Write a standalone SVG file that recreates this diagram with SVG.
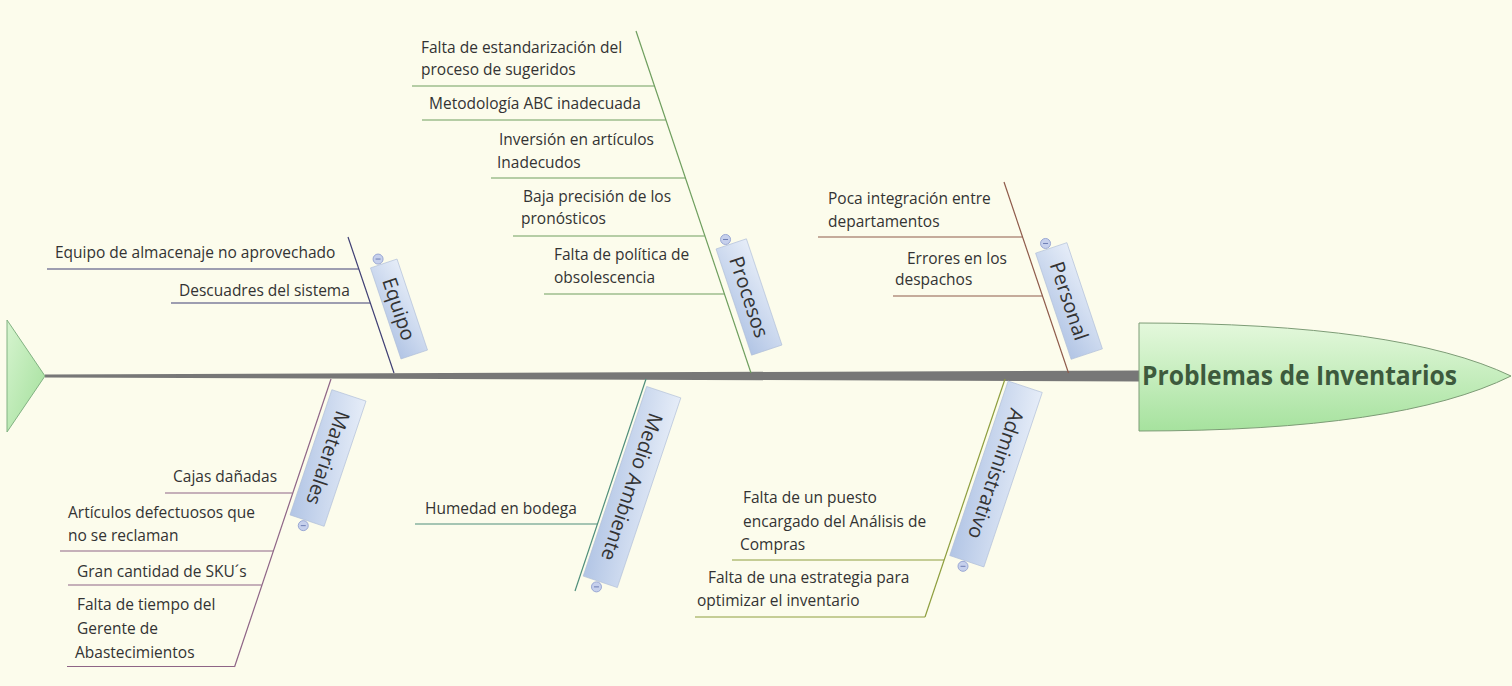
<svg xmlns="http://www.w3.org/2000/svg" width="1512" height="686" viewBox="0 0 1512 686">
  <defs>
    <linearGradient id="gHead" x1="0" y1="0" x2="0" y2="1">
      <stop offset="0" stop-color="#e4f8dc"/>
      <stop offset="1" stop-color="#a6e29e"/>
    </linearGradient>
    <linearGradient id="gTail" x1="0" y1="0" x2="1" y2="1">
      <stop offset="0" stop-color="#d6f4cf"/>
      <stop offset="1" stop-color="#a2df9a"/>
    </linearGradient>
    <linearGradient id="gLabel" x1="0" y1="0" x2="1" y2="1">
      <stop offset="0" stop-color="#e6edf8"/>
      <stop offset="1" stop-color="#b2c5e5"/>
    </linearGradient>
    <g id="minus">
      <circle r="5" fill="#c6d0ec" stroke="#9aa8d4" stroke-width="1"/>
      <line x1="-2.5" y1="0" x2="2.5" y2="0" stroke="#6e7eb4" stroke-width="1"/>
    </g>
  </defs>
  <style>
    .t{font-family:"Open Sans","Liberation Sans",sans-serif;font-size:15.5px;fill:#333}
    .lbl{font-family:"Open Sans","Liberation Sans",sans-serif;font-size:20px;fill:#333;text-anchor:middle}
    .box{fill:url(#gLabel);stroke:#aebdd8;stroke-width:0.6}
    .ln{fill:none;stroke-width:1.2}
    .eq{stroke:#3f3f74}
    .pr{stroke:#6e9e5e}
    .pe{stroke:#8e5a4a}
    .ma{stroke:#8e6486}
    .me{stroke:#4e8e7a}
    .ad{stroke:#8e9e3e}
  </style>

  <!-- background -->
  <rect width="1512" height="686" fill="#fcfcec"/>

  <!-- spine and category branches -->
  <g id="connectors">
    <polygon points="45,374.5 45,377.5 1140,381.5 1140,370.5" fill="#777"/>
    <line class="ln eq" x1="348" y1="237" x2="394" y2="373"/>
    <line class="ln pr" x1="636" y1="31" x2="751" y2="373"/>
    <line class="ln pe" x1="1004" y1="182" x2="1068.5" y2="373"/>
    <line class="ln ma" x1="331" y1="379" x2="234.5" y2="667"/>
    <line class="ln me" x1="646" y1="379" x2="575" y2="591"/>
    <line class="ln ad" x1="1005" y1="379" x2="925" y2="617"/>
  </g>

  <!-- tail -->
  <g id="tail">
    <polygon points="7,320 45,376 7,432" fill="url(#gTail)" stroke="#82b282" stroke-width="1"/>
  </g>

  <!-- head -->
  <g id="head">
    <path d="M1139,323 Q1400,323 1511,376 Q1400,431 1139,431 Z" fill="url(#gHead)" stroke="#7d9c76" stroke-width="1"/>
    <text x="1142" y="385" font-family="'Open Sans','Liberation Sans',sans-serif" font-size="26" font-weight="bold" fill="#3d5a3d" textLength="315" lengthAdjust="spacingAndGlyphs">Problemas de Inventarios</text>
  </g>

  <!-- category labels -->
  <g id="cat-equipo" transform="translate(399,309) rotate(71.5)">
    <rect class="box" x="-48" y="-14" width="96" height="28"/>
    <text class="lbl" x="0" y="7">Equipo</text>
    <use href="#minus" transform="translate(-54,4) rotate(-71.5)"/>
  </g>
  <g id="cat-procesos" transform="translate(749,297) rotate(71.5)">
    <rect class="box" x="-56" y="-16" width="112" height="32"/>
    <text class="lbl" x="0" y="7">Procesos</text>
    <use href="#minus" transform="translate(-62,4) rotate(-71.5)"/>
  </g>
  <g id="cat-personal" transform="translate(1069,301) rotate(71.5)">
    <rect class="box" x="-56" y="-16.5" width="112" height="33"/>
    <text class="lbl" x="0" y="7">Personal</text>
    <use href="#minus" transform="translate(-62,4) rotate(-71.5)"/>
  </g>
  <g id="cat-materiales" transform="translate(328,458) rotate(108.5)">
    <rect class="box" x="-66" y="-18" width="132" height="36"/>
    <text class="lbl" x="0" y="7">Materiales</text>
    <use href="#minus" transform="translate(72,2) rotate(-108.5)"/>
  </g>
  <g id="cat-medio" transform="translate(632,487) rotate(108.5)">
    <rect class="box" x="-100" y="-18" width="200" height="36"/>
    <text class="lbl" x="0" y="7">Medio Ambiente</text>
    <use href="#minus" transform="translate(106,2) rotate(-108.5)"/>
  </g>
  <g id="cat-administrativo" transform="translate(996,474) rotate(108.5)">
    <rect class="box" x="-92" y="-18" width="184" height="36"/>
    <text class="lbl" x="0" y="7">Administrativo</text>
    <use href="#minus" transform="translate(98,2) rotate(-108.5)"/>
  </g>

  <!-- Equipo causes -->
  <g id="eq-1">
    <text class="t" x="55" y="258">Equipo de almacenaje no aprovechado</text>
    <line class="ln eq" x1="47" y1="269" x2="358.7" y2="269"/>
  </g>
  <g id="eq-2">
    <text class="t" x="179" y="296">Descuadres del sistema</text>
    <line class="ln eq" x1="171" y1="303" x2="370.1" y2="303"/>
  </g>

  <!-- Procesos causes -->
  <g id="pr-1">
    <text class="t"><tspan x="421" y="53">Falta de estandarización del</tspan><tspan x="421" y="75">proceso de sugeridos</tspan></text>
    <line class="ln pr" x1="412" y1="86" x2="654.4" y2="86"/>
  </g>
  <g id="pr-2">
    <text class="t" x="429" y="109">Metodología ABC inadecuada</text>
    <line class="ln pr" x1="422" y1="120" x2="665.8" y2="120"/>
  </g>
  <g id="pr-3">
    <text class="t"><tspan x="499" y="145">Inversión en artículos</tspan><tspan x="497" y="168">Inadecudos</tspan></text>
    <line class="ln pr" x1="491" y1="178" x2="685.2" y2="178"/>
  </g>
  <g id="pr-4">
    <text class="t"><tspan x="523" y="202">Baja precisión de los</tspan><tspan x="521" y="224">pronósticos</tspan></text>
    <line class="ln pr" x1="513" y1="236" x2="704.7" y2="236"/>
  </g>
  <g id="pr-5">
    <text class="t"><tspan x="554" y="260">Falta de política de</tspan><tspan x="554" y="283">obsolescencia</tspan></text>
    <line class="ln pr" x1="544" y1="294" x2="724.1" y2="294"/>
  </g>

  <!-- Personal causes -->
  <g id="pe-1">
    <text class="t"><tspan x="828" y="204">Poca integración entre</tspan><tspan x="828" y="227">departamentos</tspan></text>
    <line class="ln pe" x1="818" y1="237" x2="1022.4" y2="237"/>
  </g>
  <g id="pe-2">
    <text class="t"><tspan x="907" y="264">Errores en los</tspan><tspan x="895" y="285">despachos</tspan></text>
    <line class="ln pe" x1="893" y1="296" x2="1042.2" y2="296"/>
  </g>

  <!-- Materiales causes -->
  <g id="ma-1">
    <text class="t" x="173" y="482">Cajas dañadas</text>
    <line class="ln ma" x1="165" y1="493" x2="292.5" y2="493"/>
  </g>
  <g id="ma-2">
    <text class="t"><tspan x="68" y="518">Artículos defectuosos que</tspan><tspan x="68" y="541">no se reclaman</tspan></text>
    <line class="ln ma" x1="60" y1="551" x2="273" y2="551"/>
  </g>
  <g id="ma-3">
    <text class="t" x="77" y="577">Gran cantidad de SKU´s</text>
    <line class="ln ma" x1="68" y1="585" x2="261.7" y2="585"/>
  </g>
  <g id="ma-4">
    <text class="t"><tspan x="77" y="610">Falta de tiempo del</tspan><tspan x="77" y="634">Gerente de</tspan><tspan x="75" y="658">Abastecimientos</tspan></text>
    <line class="ln ma" x1="67" y1="666.5" x2="234.5" y2="666.5"/>
  </g>

  <!-- Medio Ambiente causes -->
  <g id="me-1">
    <text class="t" x="425" y="514">Humedad en bodega</text>
    <line class="ln me" x1="415" y1="524" x2="597.1" y2="524"/>
  </g>

  <!-- Administrativo causes -->
  <g id="ad-1">
    <text class="t"><tspan x="743" y="503">Falta de un puesto</tspan><tspan x="743" y="527">encargado del Análisis de</tspan><tspan x="740" y="550">Compras</tspan></text>
    <line class="ln ad" x1="732" y1="560" x2="944" y2="560"/>
  </g>
  <g id="ad-2">
    <text class="t"><tspan x="708" y="583">Falta de una estrategia para</tspan><tspan x="697" y="606">optimizar el inventario</tspan></text>
    <line class="ln ad" x1="695" y1="617" x2="925" y2="617"/>
  </g>
</svg>
